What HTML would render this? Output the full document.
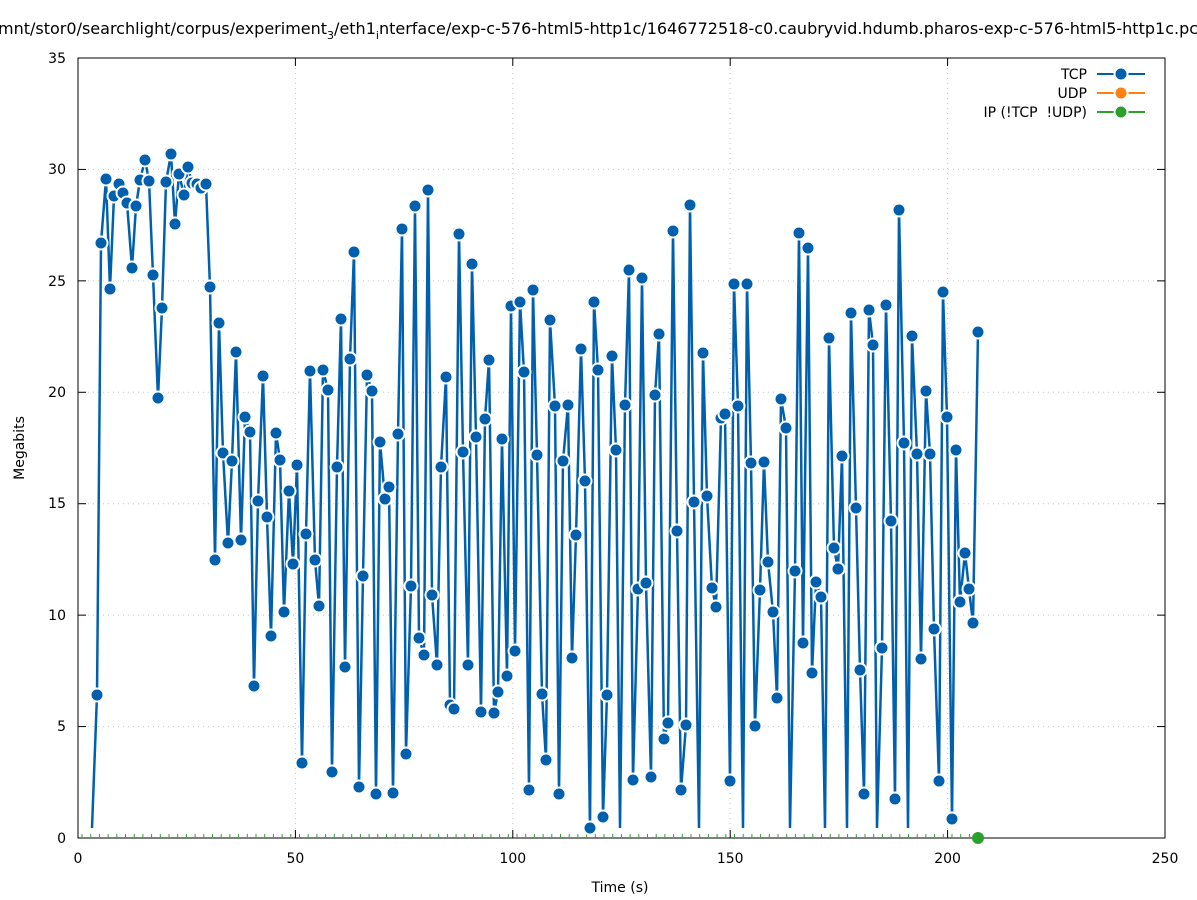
<!DOCTYPE html>
<html><head><meta charset="utf-8"><style>
body{margin:0;background:#fff}
svg{display:block;font-family:"DejaVu Sans","Liberation Sans",sans-serif;font-size:14px}
</style></head><body>
<svg id="s" width="1197" height="900" viewBox="0 0 1197 900" xmlns="http://www.w3.org/2000/svg">
<rect width="1197" height="900" fill="#fff"/>
<g stroke="#c8c8c8" stroke-dasharray="1,4" stroke-width="1">
<line x1="295.4" y1="58" x2="295.4" y2="838"/><line x1="512.8" y1="58" x2="512.8" y2="838"/><line x1="730.2" y1="58" x2="730.2" y2="838"/><line x1="947.6" y1="58" x2="947.6" y2="838"/>
<line x1="78" y1="726.6" x2="1165" y2="726.6"/><line x1="78" y1="615.1" x2="1165" y2="615.1"/><line x1="78" y1="503.7" x2="1165" y2="503.7"/><line x1="78" y1="392.3" x2="1165" y2="392.3"/><line x1="78" y1="280.9" x2="1165" y2="280.9"/><line x1="78" y1="169.4" x2="1165" y2="169.4"/>
</g>
<rect x="78" y="58" width="1087" height="780" fill="none" stroke="#000" stroke-width="1"/>
<g stroke="#000" stroke-width="1" id="ticks"></g>
<g font-size="14" text-anchor="end">
<text x="66" y="843">0</text><text x="66" y="731">5</text><text x="66" y="620">10</text><text x="66" y="508">15</text><text x="66" y="397">20</text><text x="66" y="286">25</text><text x="66" y="174">30</text><text x="66" y="63">35</text>
</g>
<g font-size="14" text-anchor="middle">
<text x="78" y="863">0</text><text x="295.4" y="863">50</text><text x="512.8" y="863">100</text><text x="730.2" y="863">150</text><text x="947.6" y="863">200</text><text x="1165" y="863">250</text>
<text x="620" y="892">Time (s)</text>
</g>
<text x="608" y="34" font-size="16" text-anchor="middle">mnt/stor0/searchlight/corpus/experiment<tspan font-size="11" dy="5">3</tspan><tspan dy="-5">/eth1</tspan><tspan font-size="11" dy="5">i</tspan><tspan dy="-5">nterface/exp-c-576-html5-http1c/1646772518-c0.caubryvid.hdumb.pharos-exp-c-576-html5-http1c.pcap</tspan></text>
<text x="24" y="448" font-size="14" text-anchor="middle" transform="rotate(-90 24 448)">Megabits</text>
<g id="green"></g>
<polyline id="line" fill="none" stroke="#0060ad" stroke-width="2.5" stroke-linejoin="miter"/>
<g id="pts"></g>
<g font-size="14" text-anchor="end">
<text x="1087" y="79">TCP</text><text x="1087" y="98">UDP</text><text x="1087" y="117" xml:space="preserve">IP (!TCP  !UDP)</text>
</g>
<line x1="1097" y1="74" x2="1145" y2="74" stroke="#0060ad" stroke-width="2"/>
<circle cx="1121" cy="74" r="6.5" fill="#0060ad" stroke="#fff" stroke-width="2"/>
<line x1="1097" y1="93" x2="1145" y2="93" stroke="#ff7f0e" stroke-width="2"/>
<circle cx="1121" cy="93" r="6.5" fill="#ff7f0e" stroke="#fff" stroke-width="2"/>
<line x1="1097" y1="112" x2="1145" y2="112" stroke="#2ca02c" stroke-width="2"/>
<circle cx="1121" cy="112" r="6.5" fill="#2ca02c" stroke="#fff" stroke-width="2"/>
</svg>
<script>
var P=[[92,828,0],[97,695],[101,243],[106,179],[110,289],[114,196],[119,184],[123,193],[127,203],[132,268],[136,206],[140,180],[145,160],[149,181],[153,275],[158,398],[162,308],[166,182],[171,154],[175,224],[179,174],[184,195],[188,167],[192,183],[197,184],[201,188],[206,184],[210,287],[215,560],[219,323],[223,453],[228,543],[232,461],[236,352],[241,540],[245,417],[250,432],[254,686],[258,501],[263,376],[267,517],[271,636],[276,433],[280,460],[284,612],[289,491],[293,564],[297,465],[302,763],[306,534],[310,371],[315,560],[319,606],[323,370],[328,390],[332,772],[337,467],[341,319],[345,667],[350,359],[354,252],[359,787],[363,576],[367,375],[372,391],[376,794],[380,442],[385,499],[389,487],[393,793],[398,434],[402,229],[406,754],[411,586],[415,206],[419,638],[424,655],[428,190],[432,595],[437,665],[441,467],[446,377],[450,705],[454,709],[459,234],[463,452],[468,665],[472,264],[476,437],[481,712],[485,419],[489,360],[494,713],[498,692],[502,439],[507,676],[511,306],[515,651],[520,302],[524,372],[529,790],[533,290],[537,455],[542,694],[546,760],[550,320],[555,406],[559,794],[563,461],[568,405],[572,658],[576,535],[581,349],[585,481],[590,828],[594,302],[598,370],[603,817],[607,695],[612,356],[616,450],[620,828,0],[625,405],[629,270],[633,780],[638,589],[642,278],[646,583],[651,777],[655,395],[659,334],[664,739],[668,723],[673,231],[677,531],[681,790],[686,725],[690,205],[694,502],[699,828,0],[703,353],[707,496],[712,588],[716,607],[721,418],[725,414],[730,781],[734,284],[738,406],[743,828,0],[747,284],[751,463],[755,726],[760,590],[764,462],[768,562],[773,612],[777,698],[781,399],[786,428],[790,828,0],[795,571],[799,233],[803,643],[808,248],[812,673],[816,582],[821,597],[825,828,0],[829,338],[834,548],[838,569],[842,456],[847,828,0],[851,313],[856,508],[860,670],[864,794],[869,310],[873,345],[877,828,0],[882,648],[886,305],[891,521],[895,799],[899,210],[904,443],[908,828,0],[912,336],[917,454],[921,659],[926,391],[930,454],[934,629],[939,781],[943,292],[947,417],[952,819],[956,450],[960,602],[965,553],[969,589],[973,623],[978,332]];
var ns="http://www.w3.org/2000/svg";
document.getElementById("line").setAttribute("points",P.map(function(p){return p[0]+","+p[1]}).join(" "));
var g=document.getElementById("pts");
P.forEach(function(p){if(p[2]===0)return;var c=document.createElementNS(ns,"circle");c.setAttribute("cx",p[0]);c.setAttribute("cy",p[1]);c.setAttribute("r","6.5");c.setAttribute("fill","#0060ad");c.setAttribute("stroke","#fff");c.setAttribute("stroke-width","2");g.appendChild(c);});
var t=document.getElementById("ticks"),s="";
for(var i=0;i<=5;i++){var x=78+i*217.4;s+='<line x1="'+x+'" y1="838" x2="'+x+'" y2="830"/><line x1="'+x+'" y1="58" x2="'+x+'" y2="66"/>';}
for(var j=0;j<=7;j++){var y=838-j*111.43;s+='<line x1="78" y1="'+y+'" x2="86" y2="'+y+'"/><line x1="1165" y1="'+y+'" x2="1157" y2="'+y+'"/>';}
t.innerHTML=s;
var gr=document.getElementById("green"),h="";
for(var x=82;x<=978;x+=8.7){h+='<line x1="'+x+'" y1="838" x2="'+x+'" y2="834" stroke="#2ca02c" stroke-width="1"/>';}
h+='<circle cx="978" cy="838" r="6" fill="#2ca02c"/>';
gr.innerHTML=h;
</script>
</body></html>
